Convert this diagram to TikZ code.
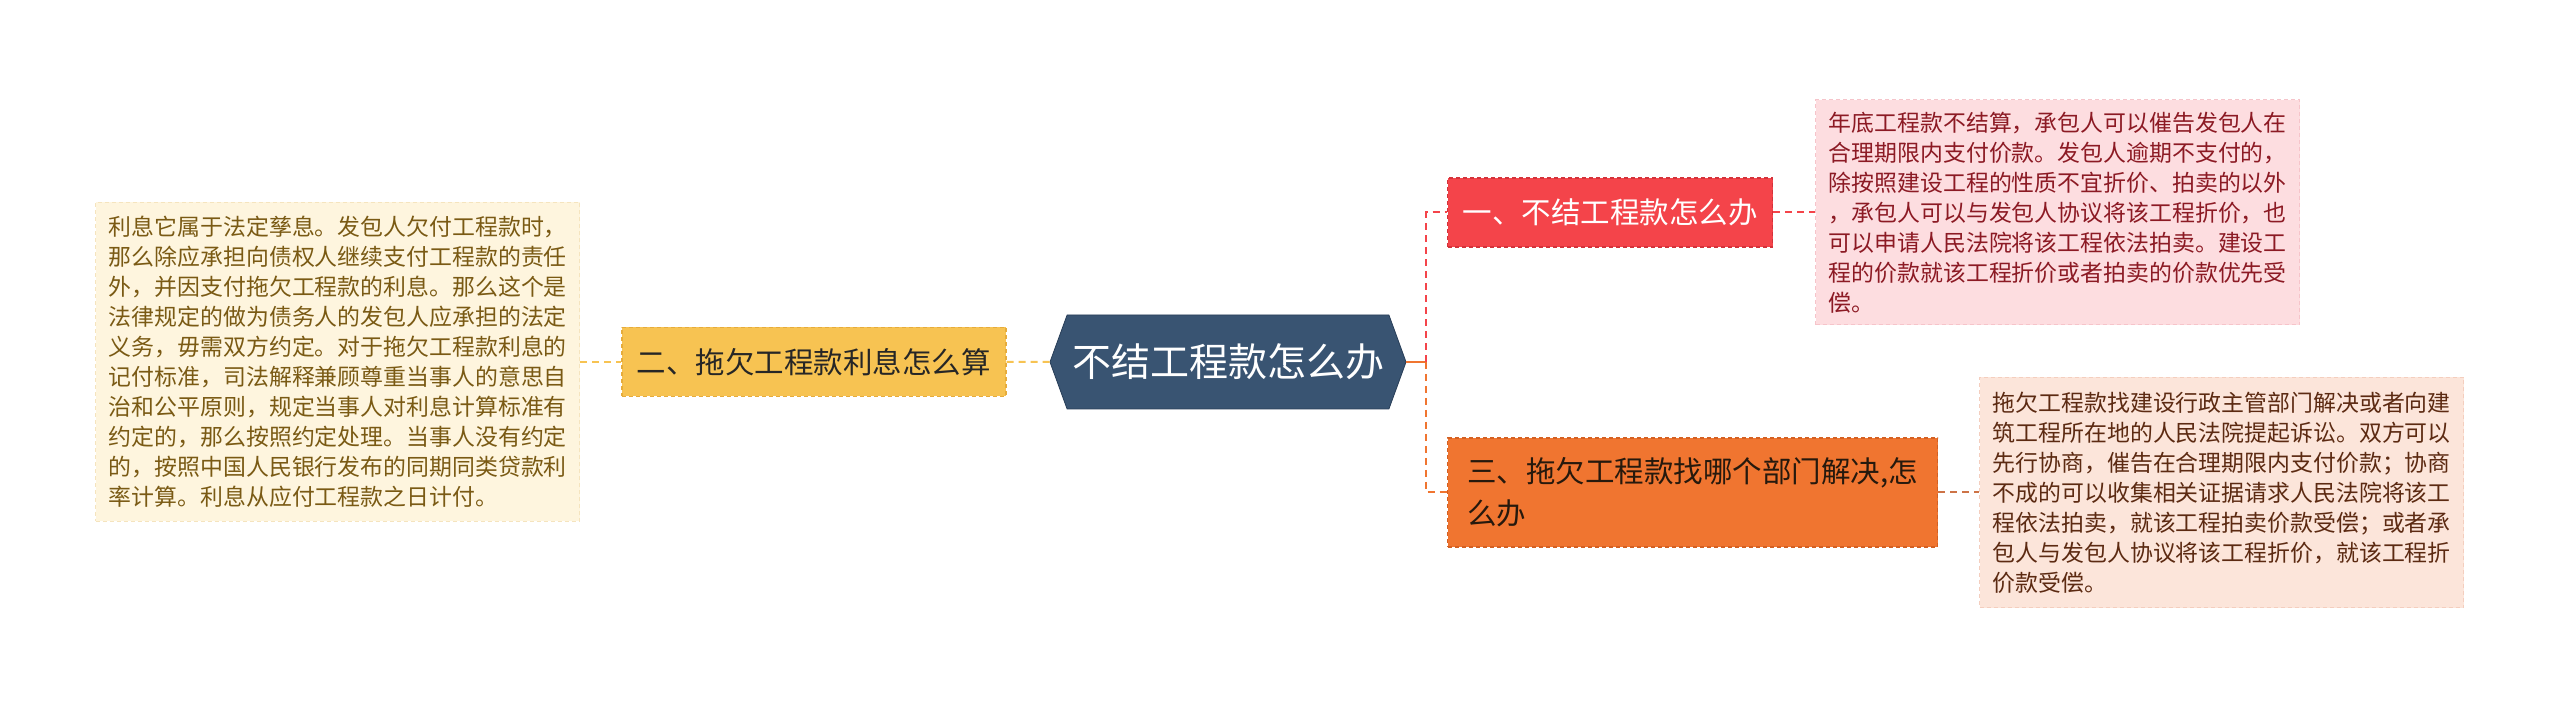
\documentclass[tikz,border=0pt]{standalone}
\usepackage{fontspec}
\usepackage{tikz}
\usetikzlibrary{positioning,shapes.symbols}
\newfontfamily\cjk{Noto Sans CJK SC}
\definecolor{hubblue}{RGB}{57,84,114}
\definecolor{hubedge}{RGB}{40,62,88}
\definecolor{ygold}{RGB}{247,195,82}
\definecolor{ygoldedge}{RGB}{230,172,60}
\definecolor{rred}{RGB}{244,68,74}
\definecolor{rrededge}{RGB}{212,50,58}
\definecolor{oorange}{RGB}{240,117,48}
\definecolor{oorangeedge}{RGB}{212,96,34}
\definecolor{obrown}{RGB}{205,115,70}
\definecolor{creamfill}{RGB}{254,245,222}
\definecolor{creamedge}{RGB}{245,228,190}
\definecolor{creamtext}{RGB}{122,90,20}
\definecolor{pinkfill}{RGB}{253,221,224}
\definecolor{pinkedge}{RGB}{246,196,202}
\definecolor{pinktext}{RGB}{140,26,36}
\definecolor{peachfill}{RGB}{252,229,218}
\definecolor{peachedge}{RGB}{244,206,190}
\definecolor{peachtext}{RGB}{92,42,18}

\begin{document}
\begin{tikzpicture}[x=0.5pt, y=-0.5pt,
  hubbox/.style={shape=signal, signal to=west and east, signal pointer angle=140,
                 draw=hubedge, fill=hubblue, text=white, inner sep=0pt,
                 minimum width=178pt, minimum height=47pt,
                 font=\cjk\fontsize{19.5}{23}\selectfont},
  ques/.style={rectangle, dash pattern=on 2pt off 1.5pt, line width=0.6pt,
               inner xsep=7.5pt, inner ysep=0pt, align=left,
               font=\cjk\fontsize{14.75}{21}\selectfont},
  note/.style={rectangle, dash pattern=on 2pt off 1.5pt, line width=0.5pt,
               text width=229pt, inner xsep=6.5pt, inner ysep=0pt, align=left,
               font=\cjk\fontsize{11.45}{15}\selectfont},
  link/.style={line width=1pt, dash pattern=on 3.5pt off 2.5pt}
]
\useasboundingbox[fill=white] (0,0) rectangle (2560,705);

\node[hubbox] (hub) at (1228,362) {不结工程款怎么办};
\node[ques, draw=ygoldedge, fill=ygold, text=black!85, minimum width=192pt, minimum height=34.5pt,
      left=21.5pt of hub] (q2) {二、拖欠工程款利息怎么算};
\node[ques, draw=rrededge, fill=rred, text=white, minimum width=162.5pt, minimum height=34.5pt,
      anchor=west] (q1) at (1447,212.5) {一、不结工程款怎么办};
\node[ques, draw=oorangeedge, fill=oorange, text=black!80!brown, minimum width=245pt, minimum height=54.5pt,
      anchor=west] (q3) at (1447,492.5) {三、拖欠工程款找哪个部门解决,怎\\么办};

\node[note, draw=creamedge, fill=creamfill, text=creamtext, minimum height=159.5pt,
      left=20.5pt of q2] (defl) {利息它属于法定孳息。发包人欠付工程款时，\\那么除应承担向债权人继续支付工程款的责任\\外，并因支付拖欠工程款的利息。那么这个是\\法律规定的做为债务人的发包人应承担的法定\\义务，毋需双方约定。对于拖欠工程款利息的\\记付标准，司法解释兼顾尊重当事人的意思自\\治和公平原则，规定当事人对利息计算标准有\\约定的，那么按照约定处理。当事人没有约定\\的，按照中国人民银行发布的同期同类贷款利\\率计算。利息从应付工程款之日计付。};
\node[note, draw=pinkedge, fill=pinkfill, text=pinktext, minimum height=112.5pt,
      right=21pt of q1] (ans1) {年底工程款不结算，承包人可以催告发包人在\\合理期限内支付价款。发包人逾期不支付的，\\除按照建设工程的性质不宜折价、拍卖的以外\\，承包人可以与发包人协议将该工程折价，也\\可以申请人民法院将该工程依法拍卖。建设工\\程的价款就该工程折价或者拍卖的价款优先受\\偿。};
\node[note, draw=peachedge, fill=peachfill, text=peachtext, minimum height=115pt,
      right=20.5pt of q3] (ans3) {拖欠工程款找建设行政主管部门解决或者向建\\筑工程所在地的人民法院提起诉讼。双方可以\\先行协商，催告在合理期限内支付价款；协商\\不成的可以收集相关证据请求人民法院将该工\\程依法拍卖，就该工程拍卖价款受偿；或者承\\包人与发包人协议将该工程折价，就该工程折\\价款受偿。};

\coordinate (jn) at (1426,362);
\draw[link, ygold] (defl) -- (q2);
\draw[link, ygold] (q2) -- (hub);
\draw[line width=1pt, oorange] (hub.east) -- (jn);
\draw[link, rred] (jn) |- (q1.west);
\draw[link, oorange] (jn) |- (q3.west);
\draw[link, rred] (q1) -- (ans1);
\draw[link, obrown] (q3) -- (ans3);
\end{tikzpicture}
\end{document}
